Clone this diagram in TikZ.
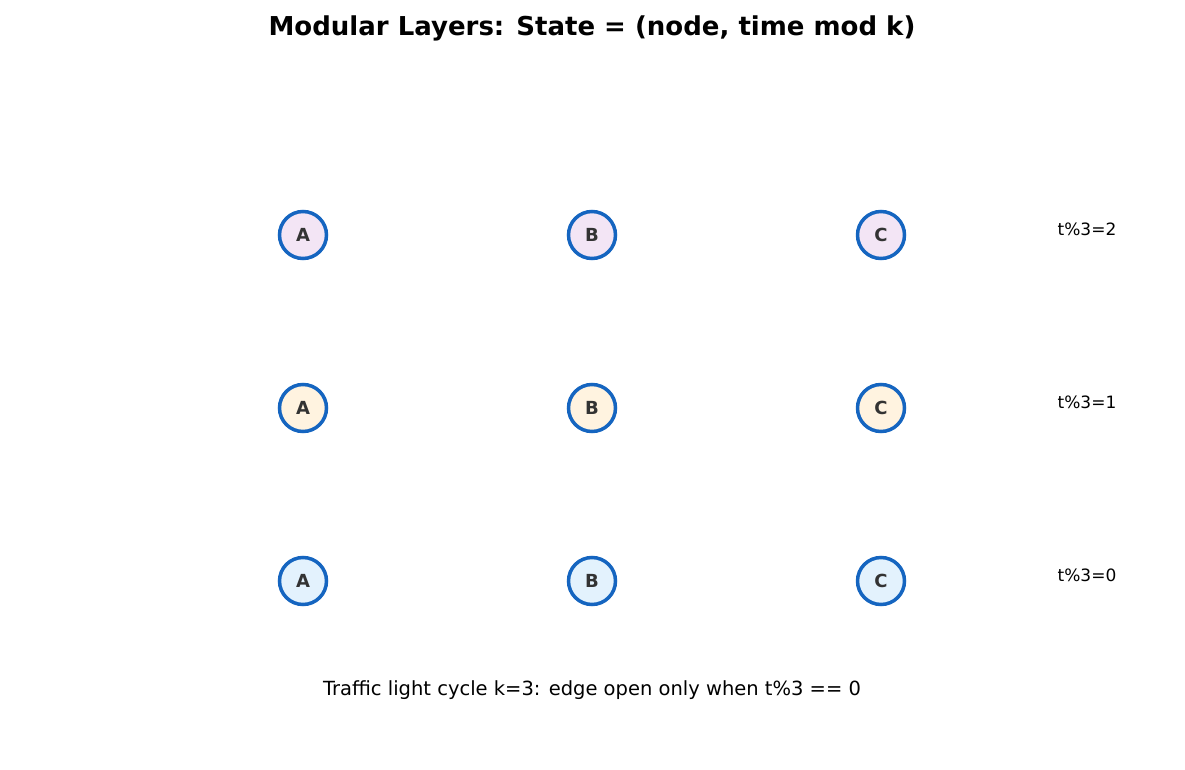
\documentclass[tikz,border=0pt]{standalone}
\usepackage{fontspec}
\setmainfont{DejaVu Sans}
\usetikzlibrary{positioning}
\definecolor{ringblue}{HTML}{1565C0}
\definecolor{lavfill}{HTML}{F3E5F5}
\definecolor{sandfill}{HTML}{FFF3E0}
\definecolor{skyfill}{HTML}{E3F2FD}
\definecolor{lettergray}{HTML}{333333}
\tikzset{
  statenode/.style={circle, draw=ringblue, line width=3.5pt, minimum size=47pt, inner sep=0pt,
    text=lettergray, font=\fontsize{18}{20}\selectfont\bfseries},
  layerlabel/.style={font=\fontsize{17}{20}\selectfont}
}
\begin{document}
\begin{tikzpicture}[x=1pt,y=-1pt]
        \useasboundingbox (0,0) rectangle (1185,770);
        \node (title) at (592,28) {\fontsize{26}{30}\selectfont\bfseries Modular Layers: State = (node, time mod k)};
        % layers, bottom = t%3=0
        \foreach \row/\yy/\fc in {2/235/lavfill, 1/408/sandfill, 0/581/skyfill} {
            \node[statenode, fill=\fc] (A\row) at (303,\yy) {A};
            \node[statenode, fill=\fc] (B\row) at (592,\yy) {B};
            \node[statenode, fill=\fc] (C\row) at (881,\yy) {C};
            \node[layerlabel] (L\row) at (1087,\yy-6) {t\%3=\row};
        }
        \node (caption) at (592,690) {\fontsize{19.5}{22}\selectfont Traffic light cycle k=3: edge open only when t\%3 == 0};
\end{tikzpicture}
\end{document}
